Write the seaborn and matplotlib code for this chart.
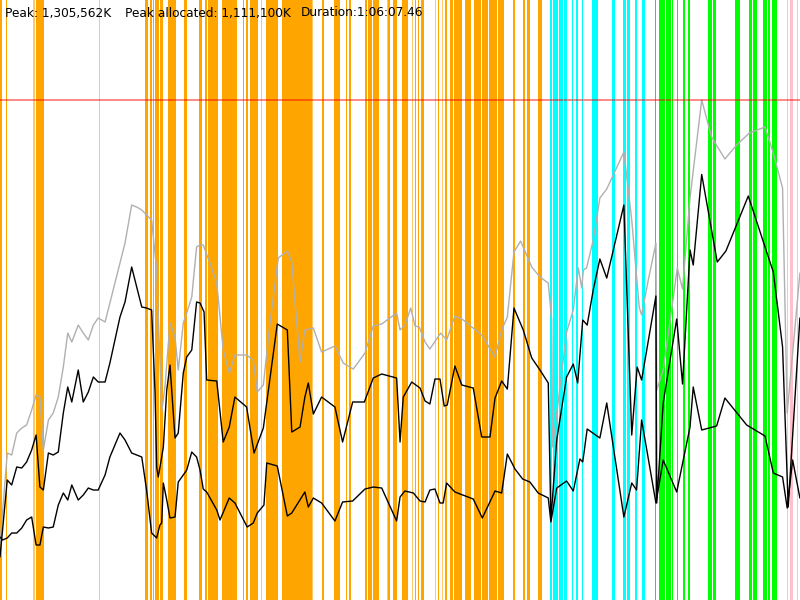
import matplotlib
matplotlib.use("Agg")
import matplotlib.pyplot as plt
import seaborn as sns
import pandas as pd

# memory trace, time in seconds, memory in MB (1000 K)
peak_total = 1305.562
peak_alloc = 1111.100
duration = 3967.46

total_t = [0, 36, 58, 83, 108, 132, 157, 179, 198, 215, 240, 264, 289, 314, 336, 356, 388, 413, 438, 463,
           487, 521, 545, 570, 595, 620, 653, 678, 703, 727, 752, 777, 802, 818, 843, 868, 884, 909, 926, 951,
           975, 992, 1008, 1041, 1075, 1107, 1137, 1165, 1223, 1256, 1276, 1306, 1339, 1380, 1425, 1447, 1488, 1512, 1554, 1595,
           1661, 1702, 1752, 1810, 1851, 1893, 1967, 1984, 2008, 2037, 2058, 2079, 2108, 2132, 2185, 2215, 2256, 2298, 2389, 2455,
           2488, 2516, 2549, 2582, 2637, 2678, 2719, 2736, 2741, 2810, 2843, 2868, 2885, 2893, 2909, 2942, 2975, 3009, 3094, 3133,
           3170, 3182, 3215, 3253, 3257, 3289, 3326, 3359, 3385, 3422, 3480, 3529, 3595, 3653, 3716, 3794, 3835, 3881, 3904, 3967]
total_mb = [143.6, 383.8, 378.6, 436.0, 449.1, 456.9, 496.1, 535.3, 530.0, 391.7, 470.0, 488.3, 530.0, 608.4, 697.1, 673.6, 718.0, 697.1, 678.9, 718.0,
            736.3, 725.9, 775.5, 827.7, 879.9, 932.1, 1031.3, 1026.1, 1018.3, 1005.2, 992.2, 861.6, 490.9, 556.1, 723.2, 686.7, 600.5, 723.2, 749.4, 791.1,
            921.7, 926.9, 926.9, 879.9, 827.7, 652.8, 592.7, 639.7, 639.7, 626.6, 543.1, 561.4, 723.2, 893.0, 911.2, 882.5, 621.4, 705.0, 710.2, 647.5,
            663.2, 618.8, 603.1, 644.9, 715.4, 720.6, 749.4, 705.0, 718.0, 762.4, 715.4, 712.8, 673.6, 655.4, 697.1, 678.9, 741.5, 731.1, 691.9, 634.5,
            705.0, 738.9, 908.6, 937.3, 869.5, 843.4, 827.7, 731.1, 399.5, 699.7, 757.2, 866.9, 814.6, 861.6, 866.9, 940.0, 1049.6, 1073.1, 1169.7, 992.2,
            765.0, 744.1, 835.5, 932.1, 548.3, 600.5, 738.9, 866.9, 812.0, 1049.6, 1305.6, 1208.9, 1151.5, 1188.0, 1219.3, 1235.0, 1167.1, 1075.7, 488.3, 853.8]

alloc_t = [0, 36, 58, 83, 108, 132, 157, 179, 198, 215, 240, 264, 289, 314, 336, 356, 388, 413, 438, 463,
           487, 521, 545, 570, 595, 620, 653, 678, 703, 727, 752, 769, 777, 785, 802, 810, 827, 843, 868, 884,
           909, 926, 951, 975, 992, 1012, 1025, 1075, 1107, 1137, 1165, 1223, 1260, 1306, 1375, 1425, 1447, 1488, 1512, 1529,
           1554, 1595, 1661, 1699, 1749, 1807, 1851, 1893, 1967, 1984, 2000, 2042, 2083, 2108, 2132, 2157, 2182, 2203, 2218, 2256,
           2290, 2347, 2389, 2430, 2455, 2488, 2516, 2549, 2595, 2637, 2678, 2719, 2732, 2761, 2810, 2843, 2865, 2890, 2912, 2942,
           2975, 3009, 3094, 3133, 3160, 3182, 3253, 3257, 3289, 3356, 3385, 3422, 3438, 3480, 3557, 3600, 3711, 3835, 3881, 3909, 3967]
alloc_mb = [112.3, 313.3, 300.3, 347.3, 344.7, 360.3, 391.7, 430.8, 295.0, 287.2, 383.8, 378.6, 386.4, 488.3, 556.1, 517.0, 600.5, 517.0, 543.1, 582.3,
            569.2, 569.2, 618.8, 678.9, 738.9, 778.1, 869.5, 817.2, 765.0, 762.4, 757.2, 540.5, 347.3, 321.2, 373.4, 399.5, 548.3, 613.6, 423.0, 436.0,
            592.7, 634.5, 652.8, 778.1, 775.5, 752.0, 574.4, 571.8, 412.5, 451.7, 530.0, 503.9, 383.8, 449.1, 720.6, 705.0, 438.6, 451.7, 530.0, 566.6,
            485.6, 530.0, 503.9, 412.5, 517.0, 517.0, 579.6, 590.1, 579.6, 412.5, 530.0, 569.2, 553.5, 519.6, 511.8, 577.0, 577.0, 506.5, 509.1, 611.0,
            561.4, 553.5, 425.6, 425.6, 527.4, 571.8, 550.9, 762.4, 705.0, 631.9, 600.5, 566.6, 208.9, 417.8, 582.3, 616.2, 566.6, 731.1, 718.0, 809.4,
            890.4, 840.7, 1031.3, 430.8, 608.4, 574.4, 793.7, 253.3, 514.4, 733.7, 564.0, 913.9, 874.7, 1111.1, 882.5, 911.2, 1054.8, 856.4, 660.6, 242.8, 736.3]

used_t = [0, 13, 36, 58, 83, 108, 132, 157, 179, 198, 215, 240, 264, 289, 314, 336, 356, 388, 413, 438,
          463, 487, 521, 545, 570, 595, 620, 653, 678, 703, 727, 752, 777, 793, 802, 810, 827, 843, 868, 884,
          909, 926, 951, 975, 992, 1008, 1025, 1075, 1091, 1137, 1165, 1226, 1256, 1276, 1309, 1323, 1375, 1425, 1447, 1512,
          1529, 1554, 1595, 1661, 1699, 1749, 1810, 1851, 1893, 1967, 1984, 2008, 2050, 2083, 2108, 2132, 2157, 2182, 2198, 2215,
          2256, 2347, 2392, 2455, 2488, 2516, 2554, 2592, 2628, 2669, 2719, 2732, 2761, 2810, 2843, 2876, 2890, 2912, 2975, 3009,
          3094, 3133, 3157, 3182, 3253, 3289, 3356, 3422, 3438, 3480, 3554, 3595, 3703, 3794, 3835, 3881, 3904, 3931, 3967]
used_mb = [164.5, 156.7, 161.9, 174.9, 174.9, 188.0, 208.9, 216.7, 143.6, 143.6, 190.6, 188.0, 190.6, 248.0, 279.4, 261.1, 300.3, 261.1, 274.2, 292.4,
           287.2, 287.2, 326.4, 373.4, 404.7, 436.0, 417.8, 383.8, 378.6, 373.4, 287.2, 174.9, 161.9, 195.8, 201.0, 305.5, 261.1, 214.1, 216.7, 308.1,
           326.4, 339.4, 386.4, 373.4, 339.4, 289.8, 282.0, 235.0, 208.9, 266.3, 253.3, 190.6, 201.0, 227.2, 248.0, 357.7, 349.9, 219.3, 227.2, 282.0,
           242.8, 266.3, 253.3, 206.3, 255.9, 258.5, 289.8, 295.0, 292.4, 206.3, 268.9, 284.6, 279.4, 258.5, 255.9, 287.2, 289.8, 253.3, 253.3, 305.5,
           282.0, 263.7, 214.1, 284.6, 279.4, 381.2, 342.0, 315.9, 308.1, 279.4, 266.3, 203.7, 292.4, 310.7, 284.6, 368.2, 360.3, 446.5, 423.0, 514.4,
           216.7, 305.5, 287.2, 470.0, 253.3, 365.5, 282.0, 451.7, 556.1, 443.9, 454.3, 527.4, 456.9, 428.2, 331.6, 321.2, 240.2, 365.5, 266.3]

# phases (start, end) in seconds
phase_a = [(0, 10), (30, 37), (179, 218), (719, 735), (742, 752), (759, 764), (769, 787), (793, 807), (832, 871), (912, 926),
           (985, 1002), (1017, 1025), (1033, 1083), (1099, 1174), (1204, 1211), (1220, 1231), (1240, 1281), (1319, 1380), (1397, 1546),
           (1595, 1607), (1658, 1686), (1714, 1722), (1732, 1741), (1810, 1818), (1826, 1843), (1851, 1881), (1926, 1934), (1947, 1967),
           (1992, 2025), (2058, 2063), (2074, 2079), (2086, 2103), (2171, 2178), (2207, 2215), (2232, 2245), (2253, 2260), (2261, 2290),
           (2306, 2334), (2351, 2384), (2389, 2421), (2426, 2463), (2471, 2499), (2545, 2554), (2595, 2603), (2612, 2628), (2666, 2686)]
phase_a_short = [(166, 174), (491, 497), (1294, 1299), (1546, 1554), (1918, 1924), (2042, 2047), (2157, 2162), (2190, 2198)]
phase_b = [(2727, 2736), (2744, 2767), (2772, 2792), (2797, 2810), (2835, 2843), (2856, 2868), (2885, 2893), (2934, 2967),
           (3033, 3050), (3091, 3104), (3108, 3124), (3149, 3160), (3182, 3199)]
phase_c = [(3248, 3253), (3270, 3298), (3301, 3326), (3331, 3339), (3356, 3361), (3385, 3397), (3410, 3422), (3509, 3529),
           (3537, 3551), (3645, 3670), (3716, 3728), (3736, 3752), (3782, 3802), (3810, 3818), (3827, 3851)]
phase_d = [(3901, 3909), (3918, 3934), (3951, 3959)]

sns.set_style("white")
plt.rcParams['font.family'] = ['DejaVu Sans']

fig = plt.figure(figsize=(8, 6), dpi=100)
ax = fig.add_axes([0, 0, 1, 1])

for s, e in phase_a:
    ax.axvspan(s, e, color='#FFA500', lw=0, zorder=1)
for s, e in phase_a_short:
    ax.axvspan(s, e, color='#FFA500', alpha=0.6, lw=0, zorder=1)
for s, e in phase_b:
    ax.axvspan(s, e, color='#00FFFF', lw=0, zorder=1)
for s, e in phase_c:
    ax.axvspan(s, e, color='#00FF00', lw=0, zorder=1)
for s, e in phase_d:
    ax.axvspan(s, e, color='#FFC0CB', lw=0, zorder=1)

total_df = pd.DataFrame({'t': total_t, 'mb': total_mb})
alloc_df = pd.DataFrame({'t': alloc_t, 'mb': alloc_mb})
used_df = pd.DataFrame({'t': used_t, 'mb': used_mb})

sns.lineplot(data=total_df, x='t', y='mb', color='#B0B0B0', lw=1, estimator=None, ax=ax, zorder=3)
sns.lineplot(data=alloc_df, x='t', y='mb', color='black', lw=1, estimator=None, ax=ax, zorder=3)
sns.lineplot(data=used_df, x='t', y='mb', color='black', lw=1, estimator=None, ax=ax, zorder=3)

ax.axhline(peak_total, color='#FF0000', alpha=0.55, lw=1.2, zorder=4)

ax.set_xlim(0, duration)
ax.set_ylim(0, peak_total * 1.2)
ax.set_axis_off()

ty = 1 - 13 / 600
ax.text(5 / 800, ty, 'Peak: 1,305,562K', transform=ax.transAxes, fontsize=8.7, va='center', color='black', zorder=5)
ax.text(125 / 800, ty, 'Peak allocated: 1,111,100K', transform=ax.transAxes, fontsize=8.7, va='center', color='black', zorder=5)
ax.text(301 / 800, ty, 'Duration:1:06:07.46', transform=ax.transAxes, fontsize=8.7, va='center', color='black', zorder=5)

fig.savefig('out.png', dpi=100)
